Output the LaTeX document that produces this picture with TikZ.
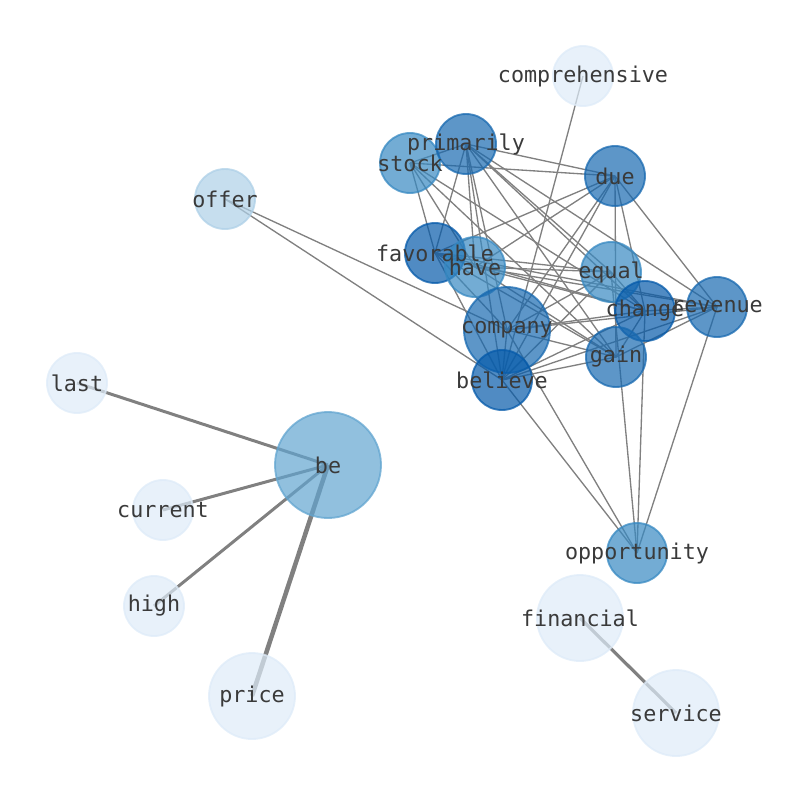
\documentclass[tikz,border=0pt]{standalone}
\usepackage{fontspec}
\setmonofont{DejaVu Sans Mono}
\pgfdeclarelayer{bg}
\pgfdeclarelayer{fg}
\pgfsetlayers{bg,main,fg}
\definecolor{cdark}{RGB}{5,90,170}
\definecolor{cmed}{RGB}{24,105,176}
\definecolor{clight}{RGB}{55,137,194}
\definecolor{cbe}{RGB}{98,165,208}
\definecolor{coffer}{RGB}{174,208,231}
\definecolor{cpale}{RGB}{222,235,248}
\definecolor{edgegray}{RGB}{128,128,128}
\definecolor{txt}{RGB}{58,58,58}
\tikzset{
  nd/.style={circle, inner sep=0pt, fill=#1, draw=#1, fill opacity=0.7, draw opacity=0.75, line width=1.4pt},
  sm/.style={minimum size=45pt},
  md/.style={minimum size=64.5pt},
  lg/.style={minimum size=79.5pt},
  lbl/.style={font=\ttfamily\fontsize{16.3pt}{18pt}\selectfont, text=txt, inner sep=0pt},
  ed/.style={draw=edgegray, line width=1pt},
  edw/.style={draw=edgegray, line width=#1}
}
\begin{document}
\begin{tikzpicture}[x=0.75pt,y=-0.75pt]
\useasboundingbox (0,0) rectangle (794,790);
% nodes
\node[nd=cpale,sm] (comprehensive) at (583,76) {};
\node[nd=coffer,sm] (offer) at (225,199) {};
\node[nd=clight,sm] (stock) at (410,163) {};
\node[nd=cmed,sm] (primarily) at (466,144) {};
\node[nd=cdark,sm] (favorable) at (435,253) {};
\node[nd=clight,sm] (have) at (475,267) {};
\node[nd=cmed,md] (company) at (507,330) {};
\node[nd=cdark,sm] (believe) at (502,380) {};
\node[nd=clight,sm] (equal) at (611,272) {};
\node[nd=cdark,sm] (change) at (645,311) {};
\node[nd=cmed,sm] (revenue) at (717,307) {};
\node[nd=cmed,sm] (gain) at (616,357) {};
\node[nd=cmed,sm] (due) at (615,176) {};
\node[nd=clight,sm] (opportunity) at (637,553) {};
\node[nd=cpale,sm] (last) at (77,383) {};
\node[nd=cbe,lg] (be) at (328,465) {};
\node[nd=cpale,sm] (current) at (163,510) {};
\node[nd=cpale,sm] (high) at (154,606) {};
\node[nd=cpale,md] (price) at (252,696) {};
\node[nd=cpale,md] (financial) at (580,618) {};
\node[nd=cpale,md] (service) at (676,713) {};
% edges
\begin{pgfonlayer}{bg}
\draw[edw=2.25pt] (last.center) -- (be.center);
\draw[edw=2.25pt] (current.center) -- (be.center);
\draw[edw=2.25pt] (high.center) -- (be.center);
\draw[edw=3.4pt] (price.center) -- (be.center);
\draw[edw=2.4pt] (financial.center) -- (service.center);
\foreach \a/\b in {comprehensive/believe, offer/company, offer/believe,
  opportunity/company, opportunity/believe, opportunity/equal, opportunity/change, opportunity/revenue,
  primarily/stock, primarily/due, primarily/favorable, primarily/have, primarily/company, primarily/believe,
  primarily/equal, primarily/change, primarily/revenue, primarily/gain,
  stock/due, stock/favorable, stock/have, stock/change, stock/gain,
  due/favorable, due/have, due/company, due/believe, due/change, due/revenue, due/gain,
  favorable/have, favorable/equal, favorable/change, favorable/revenue, favorable/gain, favorable/company, favorable/believe,
  have/equal, have/change, have/revenue, have/gain,
  equal/company, equal/believe, equal/change,
  change/company, change/believe, change/gain, change/revenue,
  revenue/company, revenue/believe, revenue/gain,
  gain/company, gain/believe, company/believe}
  \draw[ed] (\a.center) -- (\b.center);
\end{pgfonlayer}
% labels
\begin{pgfonlayer}{fg}
\foreach \n in {comprehensive, offer, stock, primarily, favorable, have, company, believe, equal, change, revenue, gain, due, opportunity, last, be, current, high, price, financial, service}
  \node[lbl] (\n-t) at (\n) {\n};
\end{pgfonlayer}
\end{tikzpicture}
\end{document}
